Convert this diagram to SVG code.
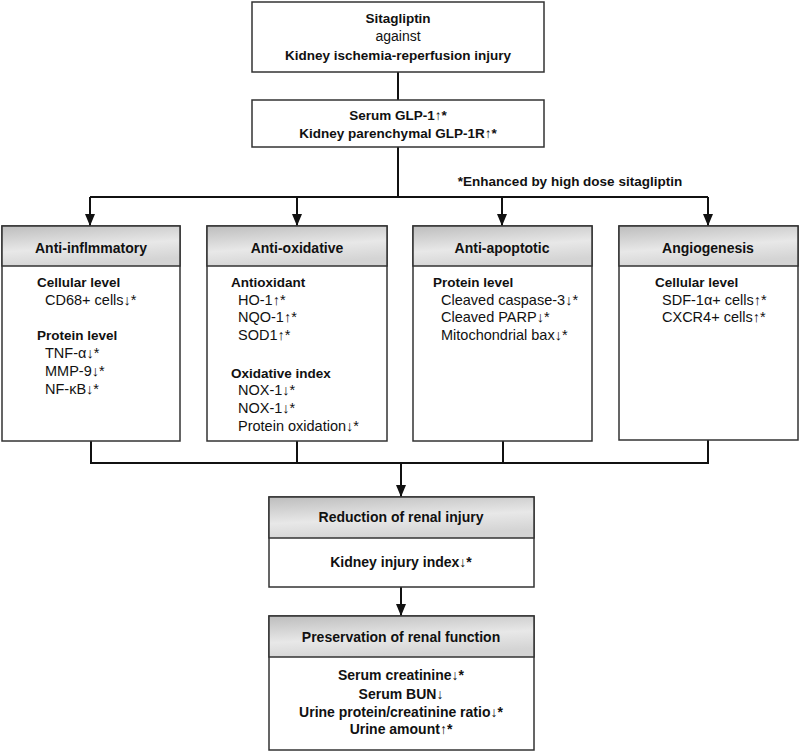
<svg xmlns="http://www.w3.org/2000/svg" width="800" height="751" viewBox="0 0 800 751">
<defs>
<linearGradient id="hg" x1="0" y1="0" x2="0.3" y2="1">
<stop offset="0" stop-color="#bdbdbd"/>
<stop offset="0.6" stop-color="#e8e8e8"/>
<stop offset="1" stop-color="#d4d4d4"/>
</linearGradient>
<marker id="ah" markerWidth="12" markerHeight="10" refX="12" refY="5" orient="auto" markerUnits="userSpaceOnUse" viewBox="0 0 12 10">
<path d="M0,0 L12,5 L0,10 Z" fill="#111"/>
</marker>
</defs>
<style>
text{font-family:"Liberation Sans",Arial,sans-serif;font-size:14.5px;fill:#111}
.b{font-weight:bold;font-size:13.5px}
.h{font-weight:bold;font-size:14px}
.c{text-anchor:middle}
.box{fill:#fff;stroke:#333;stroke-width:1.5}
.hdr{fill:url(#hg);stroke:#333;stroke-width:1.5}
.ln{fill:none;stroke:#111;stroke-width:2}
.arr{fill:none;stroke:#111;stroke-width:2}
</style>
<rect width="800" height="751" fill="#fff"/>
<g id="connectors">
<path class="ln" d="M398,72 V100"/>
<path class="ln" d="M398,147 V197"/>
<path class="ln" d="M90,197 H708"/>
<path class="arr" d="M90,197 V226" marker-end="url(#ah)"/>
<path class="arr" d="M297,197 V226" marker-end="url(#ah)"/>
<path class="arr" d="M502,197 V226" marker-end="url(#ah)"/>
<path class="arr" d="M708,197 V226" marker-end="url(#ah)"/>
<path class="ln" d="M91,441 V463 M297,441 V463 M503,441 V463 M708,440 V463 M90,463 H709"/>
<path class="arr" d="M401,463 V497" marker-end="url(#ah)"/>
<path class="arr" d="M401,587 V616" marker-end="url(#ah)"/>
</g>
<g id="top">
<rect class="box" x="252" y="2" width="292" height="70"/>
<text class="b c" x="398" y="23">Sitagliptin</text>
<text class="c" x="398" y="41" style="font-size:14px">against</text>
<text class="b c" x="398" y="60">Kidney ischemia-reperfusion injury</text>
</g>
<g id="glp">
<rect class="box" x="252" y="100" width="292" height="47"/>
<text class="b c" x="398" y="120">Serum GLP-1↑*</text>
<text class="b c" x="398" y="138">Kidney parenchymal GLP-1R↑*</text>
</g>
<g id="note">
<text class="b c" x="570" y="186">*Enhanced by high dose sitagliptin</text>
</g>
<g id="antiinflammatory">
<rect class="box" x="2" y="226" width="178" height="215"/>
<rect class="hdr" x="2" y="226" width="178" height="40"/>
<text class="h c" x="91" y="253">Anti-inflmmatory</text>
<text class="b" x="37" y="287">Cellular level</text>
<text x="45" y="304.5">CD68+ cells↓*</text>
<text class="b" x="37" y="340">Protein level</text>
<text x="45" y="358">TNF-α↓*</text>
<text x="45" y="376">MMP-9↓*</text>
<text x="45" y="393.5">NF-κB↓*</text>
</g>
<g id="antioxidative">
<rect class="box" x="207" y="226" width="180" height="215"/>
<rect class="hdr" x="207" y="226" width="180" height="40"/>
<text class="h c" x="297" y="253">Anti-oxidative</text>
<text class="b" x="231" y="287">Antioxidant</text>
<text x="238" y="304.5">HO-1↑*</text>
<text x="238" y="322">NQO-1↑*</text>
<text x="238" y="340">SOD1↑*</text>
<text class="b" x="231" y="377.5">Oxidative index</text>
<text x="238" y="395">NOX-1↓*</text>
<text x="238" y="412.5">NOX-1↓*</text>
<text x="238" y="430.5">Protein oxidation↓*</text>
</g>
<g id="antiapoptotic">
<rect class="box" x="413" y="226" width="179" height="215"/>
<rect class="hdr" x="413" y="226" width="179" height="40"/>
<text class="h c" x="502" y="253">Anti-apoptotic</text>
<text class="b" x="433" y="287">Protein level</text>
<text x="441" y="304.5">Cleaved caspase-3↓*</text>
<text x="441" y="322">Cleaved PARP↓*</text>
<text x="441" y="340">Mitochondrial bax↓*</text>
</g>
<g id="angiogenesis">
<rect class="box" x="619" y="226" width="179" height="214"/>
<rect class="hdr" x="619" y="226" width="179" height="40"/>
<text class="h c" x="708" y="253">Angiogenesis</text>
<text class="b" x="655" y="287">Cellular level</text>
<text x="662" y="304.5">SDF-1α+ cells↑*</text>
<text x="662" y="322">CXCR4+ cells↑*</text>
</g>
<g id="reduction">
<rect class="box" x="269" y="497" width="265" height="90"/>
<rect class="hdr" x="269" y="497" width="265" height="41"/>
<text class="h c" x="401" y="522">Reduction of renal injury</text>
<text class="h c" x="401" y="567">Kidney injury index↓*</text>
</g>
<g id="preservation">
<rect class="box" x="269" y="616" width="265" height="134"/>
<rect class="hdr" x="269" y="616" width="265" height="41"/>
<text class="h c" x="401" y="641.5">Preservation of renal function</text>
<text class="h c" x="401" y="680">Serum creatinine↓*</text>
<text class="h c" x="401" y="699">Serum BUN↓</text>
<text class="h c" x="401" y="717">Urine protein/creatinine ratio↓*</text>
<text class="h c" x="401" y="734">Urine amount↑*</text>
</g>
</svg>
